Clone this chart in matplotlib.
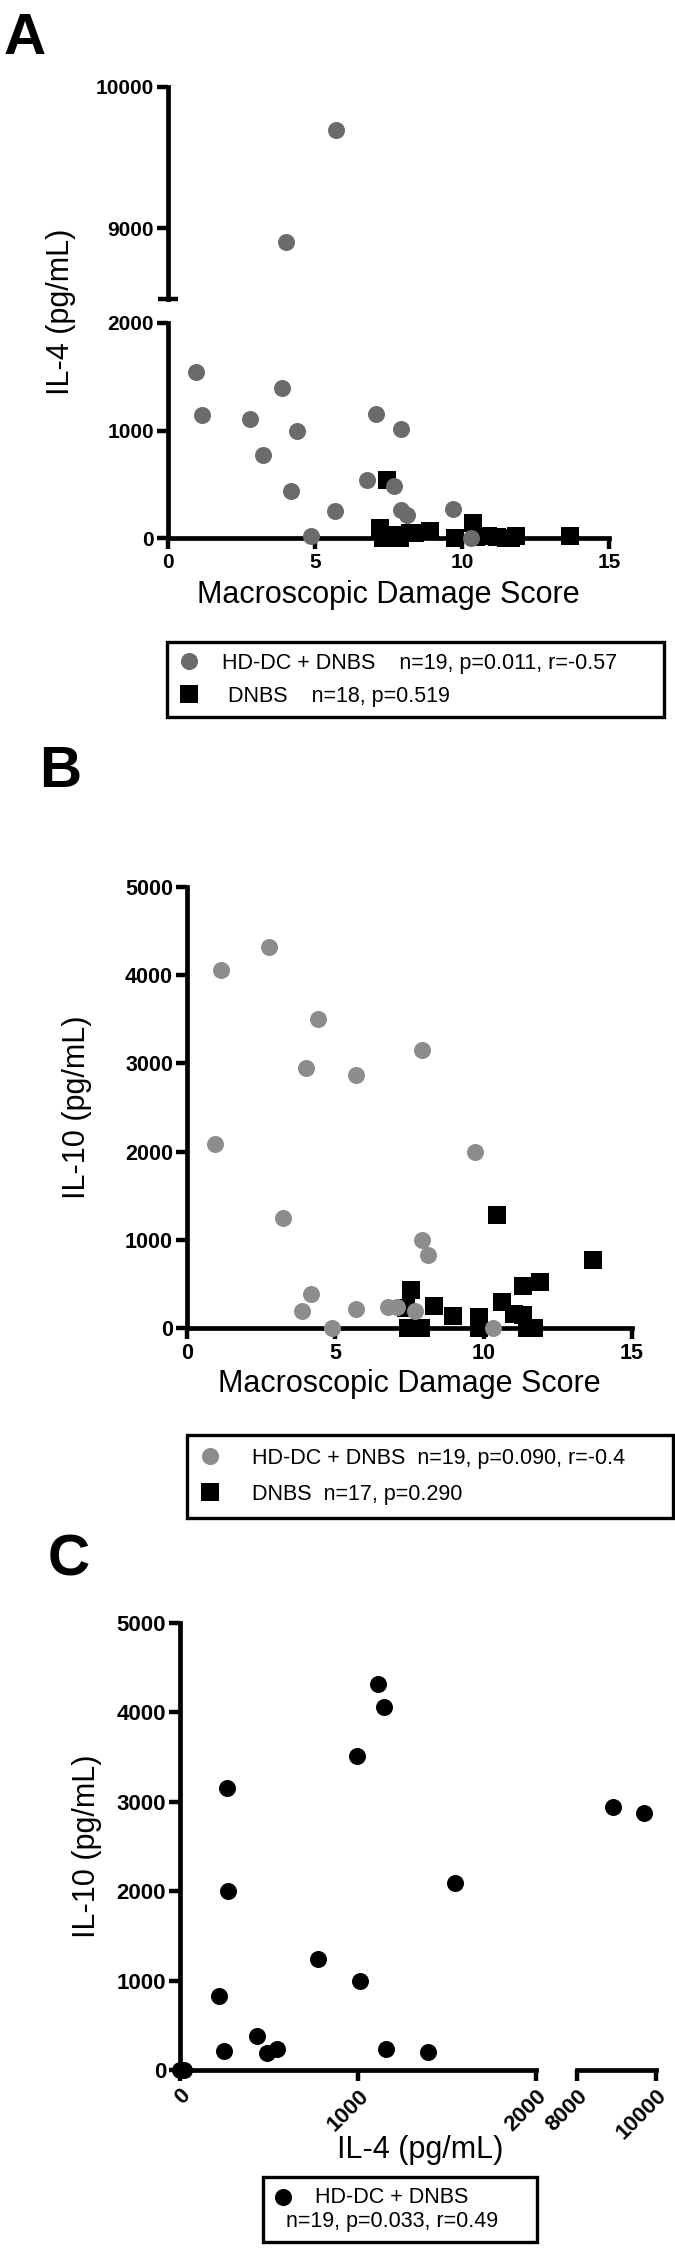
import numpy as np
import matplotlib
matplotlib.use("Agg")
import matplotlib.pyplot as plt
from matplotlib.lines import Line2D
from matplotlib.legend_handler import HandlerLine2D

plt.rcParams['font.family'] = ['Liberation Sans', 'DejaVu Sans']
plt.rcParams['font.weight'] = 'bold'

# HD-DC + DNBS mice, the same 19 animals in A, B and C
hd_score = np.array([0.96, 1.14, 2.78, 3.23, 3.87, 4.01, 4.18, 4.40, 4.88, 5.68,
                     5.70, 6.76, 7.09, 7.69, 7.91, 7.93, 8.12, 9.71, 10.31])
hd_il4 = np.array([1543, 1147, 1111, 775, 1394, 8906, 433, 992, 22, 248,
                   9696, 544, 1156, 488, 264, 1011, 218, 267, 0])
hd_il10 = np.array([2090, 4060, 4315, 1244, 196, 2945, 385, 3507, 0, 216,
                    2871, 240, 240, 190, 3154, 995, 826, 2000, 0])

# DNBS only
dnbs_a_score = np.array([7.22, 7.30, 7.45, 7.55, 7.70, 7.90, 8.23, 8.40, 8.90, 9.76,
                         10.36, 10.48, 10.90, 11.20, 11.50, 11.65, 11.85, 13.67])
dnbs_a_il4 = np.array([90, 0, 540, 10, 30, 0, 45, 50, 63, 0,
                       137, 10, 15, 5, 0, 0, 20, 20])
dnbs_b_score = np.array([7.39, 7.44, 7.55, 7.88, 8.31, 8.96, 9.85, 9.85, 10.45, 10.61,
                         11.03, 11.32, 11.32, 11.45, 11.71, 11.91, 13.67])
dnbs_b_il10 = np.array([226, 0, 432, 0, 252, 139, 124, 0, 1285, 293,
                        161, 150, 481, 0, 0, 519, 771])

legend_a = ['HD-DC + DNBS    n=19, p=0.011, r=-0.57', ' DNBS    n=18, p=0.519']
legend_b = ['HD-DC + DNBS  n=19, p=0.090, r=-0.4', 'DNBS  n=17, p=0.290']
legend_c = 'HD-DC + DNBS\nn=19, p=0.033, r=0.49'

GREY_A = '#6b6b6b'
GREY_B = '#8c8c8c'
MS = 150

W, H = 675, 2259
fig = plt.figure(figsize=(W / 100, H / 100), dpi=100)


def rect(l, t, r, b):
    # pixel box measured from the top-left -> figure fraction
    return [l / W, 1 - b / H, (r - l) / W, (b - t) / H]


def style(ax, size, left=True, bottom=True):
    for side in ('top', 'right'):
        ax.spines[side].set_visible(False)
    ax.spines['left'].set_visible(left)
    ax.spines['bottom'].set_visible(bottom)
    for sp in ax.spines.values():
        sp.set_linewidth(3.4)
        sp.set_capstyle('projecting')
    ax.tick_params(width=3.2, length=8, labelsize=size)
    ax.tick_params(axis='y', pad=2)
    ax.tick_params(axis='x', pad=3)
    ax.patch.set_visible(False)


class RaisedMarker(HandlerLine2D):
    # put the marker beside the first line of a two-line label
    def create_artists(self, legend, orig_handle, xdescent, ydescent,
                       width, height, fontsize, trans):
        arts = super().create_artists(legend, orig_handle, xdescent, ydescent,
                                      width, height, fontsize, trans)
        for a in arts:
            a.set_ydata(np.asarray(a.get_ydata()) + 0.6 * fontsize)
        return arts


def box_legend(handles, labels, l, t, r, b, bpad, spacing, hlen, tpad, hmap=None):
    leg = fig.legend(handles, labels, loc='upper left',
                     bbox_to_anchor=(l / W, 1 - b / H, (r - l) / W, (b - t) / H),
                     mode='expand', borderaxespad=0, borderpad=bpad,
                     labelspacing=spacing, handlelength=hlen, handletextpad=tpad,
                     fancybox=False, framealpha=1, edgecolor='black',
                     prop={'size': 15.5, 'weight': 'normal'}, handler_map=hmap)
    leg.get_frame().set_linewidth(2.4)
    return leg


def dot(color, marker='o'):
    return Line2D([], [], ls='none', marker=marker, markersize=12.3,
                  markerfacecolor=color, markeredgewidth=0)


# ---------- A ----------
axA_top = fig.add_axes(rect(168, 87, 609, 299))
axA = fig.add_axes(rect(168, 323, 609, 538))
top = hd_il4 >= 8500
axA_top.scatter(hd_score[top], hd_il4[top], s=MS, color=GREY_A, lw=0, zorder=4, clip_on=False)
axA.scatter(dnbs_a_score, dnbs_a_il4, s=MS, marker='s', color='black', lw=0, zorder=3, clip_on=False)
axA.scatter(hd_score[~top], hd_il4[~top], s=MS, color=GREY_A, lw=0, zorder=4, clip_on=False)
axA_top.set_xlim(0, 15)
axA_top.set_ylim(8500, 10000)
axA_top.set_xticks([])
axA_top.set_yticks([9000, 10000])
axA_top.set_yticks([8500], minor=True)
axA_top.tick_params(which='minor', direction='inout', length=14, width=3.2)
axA.set_xlim(0, 15)
axA.set_ylim(0, 2000)
axA.set_xticks([0, 5, 10, 15])
axA.set_yticks([0, 1000, 2000])
axA.set_yticks([2000], minor=True)
axA.tick_params(which='minor', direction='in', length=7, width=3.2)
style(axA_top, 15, bottom=False)
style(axA, 15)
axA.set_xlabel('Macroscopic Damage Score', fontsize=22, fontweight='normal')
axA.xaxis.set_label_coords(0.5, (538 - 603) / 215)
axA.xaxis.label.set_va('baseline')
axA.set_ylabel('IL-4 (pg/mL)', fontsize=22, fontweight='normal')
axA.yaxis.set_label_coords((61 - 168) / 441, (538 - 312) / 215)
axA.yaxis.label.set_va('center')
box_legend([dot(GREY_A), dot('black', 's')], legend_a, 167, 642, 664, 725,
           0.5, 0.55, 1.0, 1.05)

# ---------- B ----------
axB = fig.add_axes(rect(187, 887, 632, 1328))
axB.scatter(dnbs_b_score, dnbs_b_il10, s=MS, marker='s', color='black', lw=0, zorder=3, clip_on=False)
axB.scatter(hd_score, hd_il10, s=MS, color=GREY_B, lw=0, zorder=4, clip_on=False)
axB.set_xlim(0, 15)
axB.set_ylim(0, 5000)
axB.set_xticks([0, 5, 10, 15])
axB.set_yticks(np.arange(0, 5001, 1000))
style(axB, 15.5)
axB.set_xlabel('Macroscopic Damage Score', fontsize=22, fontweight='normal')
axB.xaxis.set_label_coords(0.5, (1328 - 1392) / 441)
axB.xaxis.label.set_va('baseline')
axB.set_ylabel('IL-10 (pg/mL)', fontsize=22, fontweight='normal')
axB.yaxis.set_label_coords((77 - 187) / 445, 0.5)
axB.yaxis.label.set_va('center')
box_legend([dot(GREY_B), dot('black', 's')], legend_b, 187, 1435, 673, 1525,
           0.6, 0.7, 0.9, 1.5)

# ---------- C ----------
axC = fig.add_axes(rect(180, 1623, 536, 2070))
axC2 = fig.add_axes(rect(577, 1623, 656, 2070))
low = hd_il4 <= 2000
axC.scatter(hd_il4[low], hd_il10[low], s=MS, color='black', lw=0, zorder=4, clip_on=False)
axC2.scatter(hd_il4[~low], hd_il10[~low], s=MS, color='black', lw=0, zorder=4, clip_on=False)
axC.set_xlim(0, 2000)
axC.set_ylim(0, 5000)
axC.set_xticks([0, 1000, 2000])
axC.set_yticks(np.arange(0, 5001, 1000))
axC2.set_xlim(8000, 10000)
axC2.set_ylim(0, 5000)
axC2.set_xticks([8000, 10000])
axC2.set_yticks([])
style(axC, 16)
style(axC2, 16, left=False)
for ax in (axC, axC2):
    for lab in ax.get_xticklabels():
        lab.set_rotation(45)
        lab.set_ha('right')
        lab.set_va('top')
        lab.set_rotation_mode('anchor')
axC.set_xlabel('IL-4 (pg/mL)', fontsize=22, fontweight='normal')
axC.xaxis.set_label_coords((420 - 180) / 356, (2070 - 2158) / 447)
axC.xaxis.label.set_va('baseline')
axC.set_ylabel('IL-10 (pg/mL)', fontsize=22, fontweight='normal')
axC.yaxis.set_label_coords((87 - 180) / 356, 0.5)
axC.yaxis.label.set_va('center')
hc = dot('black')
box_legend([hc], [legend_c], 263, 2177, 537, 2252, 0.45, 0.5, 1.0, -0.38,
           hmap={hc: RaisedMarker()})
fig.legends[-1].get_texts()[0].set_multialignment('center')

# panel letters
for letter, x, y in [('A', 4, 54), ('B', 39, 787), ('C', 48, 1575)]:
    fig.text(x / W, 1 - y / H, letter, fontsize=42, fontweight='bold', va='baseline')

fig.savefig('out.png', dpi=100, facecolor='white')
